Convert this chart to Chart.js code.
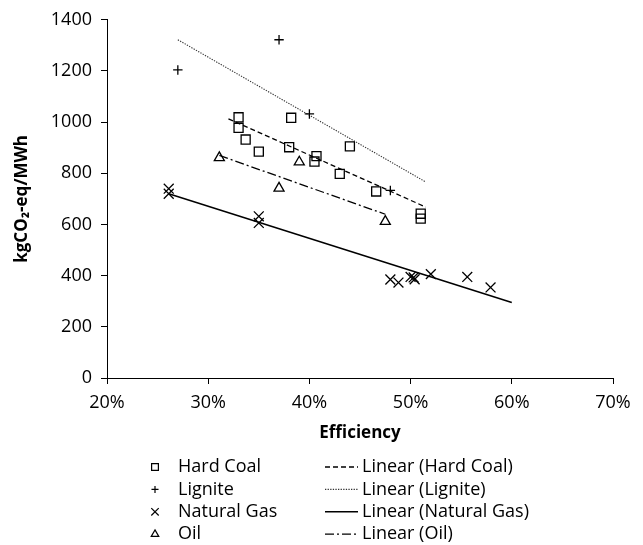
<!DOCTYPE html>
<html><head><meta charset="utf-8">
<script src="https://cdn.jsdelivr.net/npm/chart.js@4/dist/chart.umd.min.js"></script>
<style>html,body{margin:0;padding:0;background:#fff;}canvas{display:block;}</style>
</head><body>
<canvas id="c" width="643" height="545"></canvas>
<script>
// ---- data (efficiency in %, emissions in kgCO2-eq/MWh) ----
const seriesNames = ['Hard Coal', 'Lignite', 'Natural Gas', 'Oil'];
const trendNames = ['Linear (Hard Coal)', 'Linear (Lignite)', 'Linear (Natural Gas)', 'Linear (Oil)'];

const hardCoalEff = [33.0, 33.0, 33.7, 35.0, 38.2, 38.0, 40.7, 40.5, 44.0, 43.0, 46.6, 51.0, 51.0];
const hardCoalEm  = [1019, 978, 932, 885, 1017, 902, 867, 846, 905, 798, 729, 642, 623];

const ligniteEff = [27.0, 37.0, 40.0, 48.0];
const ligniteEm  = [1204, 1322, 1032, 733];

const gasEff = [26.1, 26.1, 35.0, 35.0, 48.0, 48.8, 50.0, 50.3, 50.4, 52.0, 55.6, 57.9];
const gasEm  = [740, 720, 632, 606, 385, 373, 395, 393, 386, 406, 395, 354];

const oilEff = [31.1, 39.0, 37.0, 47.5];
const oilEm  = [861, 844, 742, 612];

// trend line end points
const hardCoalTrendEff = [32.0, 51.5];
const hardCoalTrendEm  = [1013, 668];
const ligniteTrendEff  = [27.0, 51.5];
const ligniteTrendEm   = [1322, 766];
const gasTrendEff      = [26.1, 60.0];
const gasTrendEm       = [720, 295];
const oilTrendEff      = [31.1, 47.5];
const oilTrendEm       = [870, 640];

const xTickValues = [20, 30, 40, 50, 60, 70];
const yTickValues = [0, 200, 400, 600, 800, 1000, 1200, 1400];

const pts = (xs, ys) => xs.map((x, i) => ({x: x, y: ys[i]}));

const FONT = '"Open Sans", "Noto Sans", sans-serif';
const INK = '#000';

function markerDs(label, xs, ys, style, r) {
  return {label, data: pts(xs, ys), pointStyle: style, pointRadius: r, pointHoverRadius: r,
    backgroundColor: 'rgba(0,0,0,0)', borderColor: INK, pointBorderColor: INK,
    pointBackgroundColor: 'rgba(0,0,0,0)', borderWidth: 1.3, pointBorderWidth: 1.3, showLine: false};
}
function trendDs(label, xs, ys, dash, w, color) {
  return {label, data: pts(xs, ys), showLine: true, pointRadius: 0, pointHoverRadius: 0,
    borderColor: color, borderWidth: w, borderDash: dash, fill: false, backgroundColor: 'rgba(0,0,0,0)'};
}

const datasets = [
  markerDs(seriesNames[0], hardCoalEff, hardCoalEm, 'rect', 6.4),
  markerDs(seriesNames[1], ligniteEff, ligniteEm, 'cross', 4.7),
  markerDs(seriesNames[2], gasEff, gasEm, 'crossRot', 7),
  markerDs(seriesNames[3], oilEff, oilEm, 'triangle', 5.8),
  trendDs(trendNames[0], hardCoalTrendEff, hardCoalTrendEm, [5, 3], 1.3, INK),
  trendDs(trendNames[1], ligniteTrendEff, ligniteTrendEm, [1.3, 1.3], 1.1, '#333'),
  trendDs(trendNames[2], gasTrendEff, gasTrendEm, [], 1.5, INK),
  trendDs(trendNames[3], oilTrendEff, oilTrendEm, [9, 3, 2, 3], 1.3, INK)
];

function drawMarker(ctx, style, x, y, r) {
  ctx.beginPath();
  if (style === 'rect') {
    const s = r * Math.SQRT1_2;
    ctx.rect(x - s, y - s, 2 * s, 2 * s);
  } else if (style === 'cross') {
    ctx.moveTo(x - r, y); ctx.lineTo(x + r, y);
    ctx.moveTo(x, y - r); ctx.lineTo(x, y + r);
  } else if (style === 'crossRot') {
    const o = r * Math.SQRT1_2;
    ctx.moveTo(x - o, y - o); ctx.lineTo(x + o, y + o);
    ctx.moveTo(x - o, y + o); ctx.lineTo(x + o, y - o);
  } else if (style === 'triangle') {
    ctx.moveTo(x, y - r);
    ctx.lineTo(x + r * Math.sin(2 * Math.PI / 3), y - r * Math.cos(2 * Math.PI / 3));
    ctx.lineTo(x + r * Math.sin(4 * Math.PI / 3), y - r * Math.cos(4 * Math.PI / 3));
    ctx.closePath();
  }
  ctx.stroke();
}

const legendPlugin = {
  id: 'twoColumnLegend',
  afterDraw(chart) {
    const ctx = chart.ctx;
    const ds = chart.data.datasets;
    const bottom = chart.chartArea.bottom;
    ctx.save();
    ctx.font = '18px ' + FONT;
    ctx.textBaseline = 'middle';
    ctx.textAlign = 'left';
    for (let i = 0; i < 4; i++) {
      const y = bottom + 89 + i * 22.4;
      const m = ds[i];
      ctx.strokeStyle = INK;
      ctx.lineWidth = 1.2;
      ctx.setLineDash([]);
      drawMarker(ctx, m.pointStyle, 155, y, m.pointRadius * 0.75);
      ctx.fillStyle = INK;
      ctx.fillText(m.label, 178, y);
      const t = ds[i + 4];
      ctx.strokeStyle = t.borderColor;
      ctx.lineWidth = t.borderWidth;
      ctx.setLineDash(t.borderDash);
      ctx.beginPath();
      ctx.moveTo(325, y); ctx.lineTo(358, y);
      ctx.stroke();
      ctx.setLineDash([]);
      ctx.fillText(t.label, 362, y);
    }
    ctx.restore();
  }
};

new Chart(document.getElementById('c'), {
  type: 'scatter',
  data: {datasets},
  options: {
    responsive: false,
    animation: false,
    devicePixelRatio: 1,
    events: [],
    layout: {padding: {top: 19, right: 30, bottom: 97, left: 0}},
    plugins: {legend: {display: false}, tooltip: {enabled: false}},
    scales: {
      x: {
        type: 'linear', min: 20, max: 70,
        afterBuildTicks: s => { s.ticks = xTickValues.map(v => ({value: v})); },
        afterFit: s => { s.height = 70; },
        ticks: {callback: v => v + '%', color: INK, font: {family: FONT, size: 18}, padding: 8, maxRotation: 0},
        grid: {display: true, drawOnChartArea: false, drawTicks: true, tickLength: 6, color: INK, lineWidth: 1},
        border: {display: true, color: INK, width: 1},
        title: {display: true, text: 'Efficiency', color: INK, font: {family: FONT, size: 17, weight: 'bold'}, padding: {top: 0, bottom: 5}}
      },
      y: {
        type: 'linear', min: 0, max: 1400,
        afterBuildTicks: s => { s.ticks = yTickValues.map(v => ({value: v})); },
        afterFit: s => { s.width = 107; },
        ticks: {callback: v => String(v), color: INK, font: {family: FONT, size: 18}, padding: 9},
        grid: {display: true, drawOnChartArea: false, drawTicks: true, tickLength: 6, color: INK, lineWidth: 1},
        border: {display: true, color: INK, width: 1},
        title: {display: true, text: 'kgCO\u2082-eq/MWh', color: INK, font: {family: FONT, size: 17, weight: 'bold'}, padding: {top: 12, bottom: 0}}
      }
    }
  },
  plugins: [legendPlugin]
});
</script>
</body></html>
